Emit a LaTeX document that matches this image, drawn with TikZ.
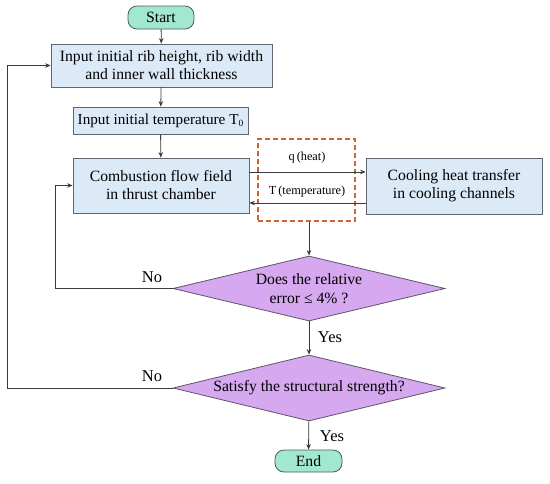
\documentclass[tikz,border=0pt]{standalone}
\usepackage{fontspec}
\setmainfont{Liberation Serif}
\usetikzlibrary{shapes.geometric,arrows.meta,calc}
\definecolor{boxfill}{HTML}{DCEAF7}
\definecolor{boxline}{HTML}{5E6670}
\definecolor{diafill}{HTML}{D6A8F0}
\definecolor{dialine}{HTML}{5E5468}
\definecolor{termfill}{HTML}{A2E8CE}
\definecolor{termline}{HTML}{4C5E55}
\definecolor{dashorange}{HTML}{CC6633}
\definecolor{wire}{HTML}{3A3A3A}
\begin{document}
\begin{tikzpicture}[x=1pt,y=-1pt,
  font=\fontsize{15.7}{18}\selectfont,
  procbox/.style={draw=boxline,fill=boxfill,line width=0.8pt,align=center,inner sep=0pt},
  decision/.style={diamond,draw=dialine,fill=diafill,line width=0.8pt,align=center,inner sep=0pt,aspect=4.18,font=\fontsize{15.7}{19}\selectfont},
  term/.style={draw=termline,fill=termfill,line width=0.8pt,rounded corners=9pt,inner sep=0pt},
  conn/.style={draw=wire,line width=0.8pt,-{Stealth[length=5.5pt,width=4.5pt]}},
  lbl/.style={font=\fontsize{16.5}{19}\selectfont},
  smalllbl/.style={font=\fontsize{12.3}{14}\selectfont}
]
\useasboundingbox (0,0) rectangle (550,483);

\node[term,minimum width=66pt,minimum height=23pt] (start) at (161,17.5) {Start};
\node[procbox,minimum width=221pt,minimum height=43pt] (b1) at (161.5,65.5) {Input initial rib height, rib width\\and inner wall thickness};
\node[procbox,minimum width=175pt,minimum height=27pt,font=\fontsize{15.2}{18}\selectfont] (b2) at (160.5,120.5) {Input initial temperature T{\fontsize{9.5}{10}\selectfont\raisebox{-2.5pt}{0}}};
\node[procbox,minimum width=176pt,minimum height=55pt] (b3) at (161,185.5) {Combustion flow field\\in thrust chamber};
\node[procbox,minimum width=176pt,minimum height=56pt] (b4) at (454,186) {Cooling heat transfer\\in cooling channels};
\node[draw=dashorange,line width=1.2pt,minimum width=97pt,minimum height=82pt,inner sep=0pt,dash pattern=on 5pt off 3pt] (dash) at (306.5,180) {};
\node[decision,minimum width=272pt,minimum height=65pt] (d1) at (309,288.5) {Does the relative\\error ≤ 4\% ?};
\node[decision,minimum width=272pt,minimum height=66pt] (d2) at (309,388) {Satisfy the structural strength?};
\node[term,minimum width=67pt,minimum height=22pt] (end) at (308.5,461) {End};

\coordinate (qy) at (0,172);
\coordinate (ty) at (0,203);
\coordinate (loopa) at (55,0);
\coordinate (loopb) at (7,0);

\draw[conn] (start) -- (b1);
\draw[conn] (b1) -- (b2);
\draw[conn] (b2) -- (b3);
\draw[conn] (b3.east |- qy) -- (b4.west |- qy);
\draw[conn] (b4.west |- ty) -- (b3.east |- ty);
\draw[conn] (d1.north |- dash.south) -- (d1.north);
\draw[conn] (d1) -- (d2);
\draw[conn] (d2) -- (end);
\draw[conn] (d1.west) -- (loopa |- d1.west) -- (loopa |- b3.west) -- (b3.west);
\draw[conn] (d2.west) -- (loopb |- d2.west) -- (loopb |- b1.west) -- (b1.west);

\node[smalllbl] (lq) at (307,158) {q\,(heat)};
\node[smalllbl] (lt) at (307,192) {T\,(temperature)};
\node[lbl] (no1) at (152,277) {No};
\node[lbl] (no2) at (152,376) {No};
\node[lbl] (yes1) at (330,337) {Yes};
\node[lbl] (yes2) at (332,436) {Yes};
\end{tikzpicture}
\end{document}
